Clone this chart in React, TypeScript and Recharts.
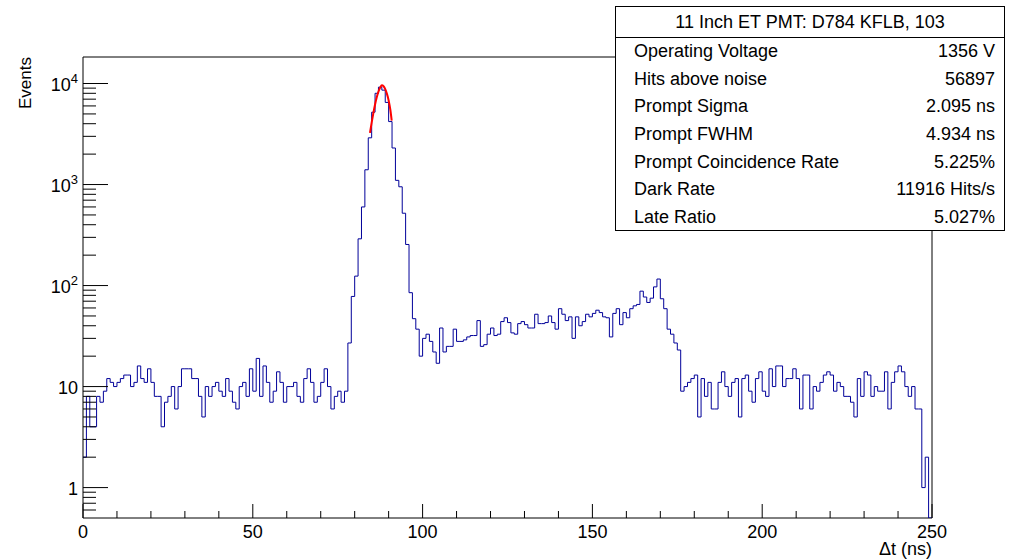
import React from 'react';
import { LineChart, Line, XAxis, YAxis, ReferenceArea } from 'recharts';

// events per 1 ns bin, bins 0..249
const counts = [
  2, 8, 4, 4, 8, 7, 9, 12, 11, 10,
  11, 12, 13, 13, 10, 11, 16, 12, 11, 15,
  11, 8, 8, 4, 7, 8, 10, 6, 10, 15,
  15, 15, 12, 12, 8, 5, 10, 8, 10, 11,
  9, 8, 12, 9, 7, 6, 10, 11, 8, 15,
  9, 19, 8, 16, 11, 7, 9, 14, 11, 7,
  10, 10, 11, 8, 7, 12, 15, 11, 7, 8,
  11, 15, 10, 6, 8, 9, 7, 9, 27, 78,
  124, 290, 600, 1400, 2900, 5200, 8000, 9200, 8600, 6500,
  4200, 2300, 1100, 950, 520, 255, 85, 47, 37, 20,
  30, 33, 28, 22, 17, 38, 22, 25, 25, 37,
  28, 28, 29, 31, 32, 32, 45, 25, 26, 33,
  38, 32, 33, 44, 48, 43, 34, 33, 42, 44,
  41, 38, 38, 52, 42, 42, 43, 50, 43, 37,
  59, 52, 45, 49, 30, 49, 40, 44, 52, 49,
  53, 57, 54, 49, 48, 31, 53, 59, 41, 54,
  48, 59, 63, 65, 88, 77, 68, 75, 97, 116,
  74, 59, 37, 33, 27, 23, 9, 10, 11, 12,
  13, 5, 12, 8, 11, 6, 6, 11, 14, 10,
  8, 11, 12, 5, 12, 13, 9, 7, 12, 14,
  9, 8, 15, 10, 16, 16, 10, 12, 12, 15,
  12, 6, 13, 13, 6, 10, 9, 11, 13, 14,
  13, 9, 11, 10, 8, 8, 7, 5, 12, 8,
  14, 13, 8, 10, 9, 9, 14, 6, 11, 14,
  16, 14, 10, 8, 10, 6, 6, 1, 2, 0,
];

// gaussian fit curve as drawn (red)
const fitX = [84.5, 85, 85.5, 86, 86.5, 87, 87.5, 88, 88.5, 89, 89.5, 90, 90.5, 90.9];
const fitY = [3250, 4100, 5100, 6200, 7300, 8300, 9100, 9600, 9400, 8800, 7900, 6800, 5500, 4300];

const xMajorTicks = [0, 50, 100, 150, 200, 250];
const xMinorTicks = [10, 20, 30, 40, 60, 70, 80, 90, 110, 120, 130, 140, 160, 170, 180, 190, 210, 220, 230, 240];
const yMajorTicks = [1, 10, 100, 1000, 10000];
const yMinorTicks = [
  0.6, 0.7, 0.8, 0.9,
  2, 3, 4, 5, 6, 7, 8, 9,
  20, 30, 40, 50, 60, 70, 80, 90,
  200, 300, 400, 500, 600, 700, 800, 900,
  2000, 3000, 4000, 5000, 6000, 7000, 8000, 9000,
];

const statsTitle = '11 Inch ET PMT: D784 KFLB, 103';
const statsLabels = [
  'Operating Voltage',
  'Hits above noise',
  'Prompt Sigma',
  'Prompt FWHM',
  'Prompt Coincidence Rate',
  'Dark Rate',
  'Late Ratio',
];
const statsValues = ['1356 V', '56897', '2.095 ns', '4.934 ns', '5.225%', '11916 Hits/s', '5.027%'];

const Y_MIN = 0.5;
const Y_MAX = 18300;
const FONT = '"Liberation Sans", Arial, Helvetica, sans-serif';

const histData = counts.map((c, i) => ({ x: i, y: Math.max(c, Y_MIN) }));
histData.push({ x: counts.length, y: Math.max(counts[counts.length - 1], Y_MIN) });

const fitData = fitX.map((x, i) => ({ x, y: fitY[i] }));

const XTick = (props: any) => {
  const { x, y, payload } = props;
  const major = xMajorTicks.includes(payload.value);
  return (
    <g>
      <line x1={x} x2={x} y1={y} y2={y - (major ? 14 : 7)} stroke="#000" />
      {major && (
        <text x={x} y={y + 20} textAnchor="middle" fontSize={18} fontFamily={FONT} fill="#000">
          {payload.value}
        </text>
      )}
    </g>
  );
};

const YTick = (props: any) => {
  const { x, y, payload } = props;
  const v = payload.value;
  const major = yMajorTicks.includes(v);
  const exp = Math.round(Math.log10(v));
  return (
    <g>
      <line x1={x} x2={x + (major ? 25 : 13)} y1={y} y2={y} stroke="#000" />
      {major && (
        <text x={x - 5} y={y + 7} textAnchor="end" fontSize={18} fontFamily={FONT} fill="#000">
          {exp === 0 ? '1' : '10'}
          {exp > 1 && (
            <tspan dy={-8} fontSize={13}>
              {exp}
            </tspan>
          )}
        </text>
      )}
    </g>
  );
};

export default function App() {
  return (
    <div style={{ position: 'absolute', left: 0, top: 0, width: 1010, height: 560, background: '#fff', fontFamily: FONT }}>
      <LineChart width={1010} height={560} margin={{ top: 57, right: 78, bottom: 12, left: 23 }}>
        <XAxis
          dataKey="x"
          type="number"
          domain={[0, 250]}
          allowDataOverflow
          ticks={[...xMajorTicks, ...xMinorTicks].sort((a, b) => a - b)}
          interval={0}
          tick={<XTick />}
          tickLine={false}
          axisLine={false}
          tickSize={0}
          tickMargin={0}
          height={30}
        />
        <YAxis
          type="number"
          scale="log"
          domain={[Y_MIN, Y_MAX]}
          allowDataOverflow
          ticks={[...yMajorTicks, ...yMinorTicks].sort((a, b) => a - b)}
          interval={0}
          tick={<YTick />}
          tickLine={false}
          axisLine={false}
          tickSize={0}
          tickMargin={0}
          width={60}
        />
        <ReferenceArea x1={0} x2={250} y1={Y_MIN} y2={Y_MAX} fill="none" stroke="#000" strokeWidth={1} />
        <Line
          data={histData}
          dataKey="y"
          type="stepAfter"
          stroke="#000099"
          strokeWidth={1}
          dot={false}
          isAnimationActive={false}
        />
        <Line
          data={fitData}
          dataKey="y"
          type="monotone"
          stroke="#ff0000"
          strokeWidth={2}
          dot={false}
          isAnimationActive={false}
        />
      </LineChart>

      <svg width={1010} height={560} style={{ position: 'absolute', left: 0, top: 0, pointerEvents: 'none' }}>
        <text x={31} y={57} transform="rotate(-90 31 57)" textAnchor="end" fontSize={17} fontFamily={FONT} fill="#000">
          Events
        </text>
        <text x={932} y={555} textAnchor="end" fontSize={18} fontFamily={FONT} fill="#000">
          Δt (ns)
        </text>
      </svg>

      <div
        style={{
          position: 'absolute',
          left: 615,
          top: 6,
          width: 390,
          height: 225,
          boxSizing: 'border-box',
          border: '1px solid #000',
          background: '#fff',
          fontSize: 18,
          color: '#000',
        }}
      >
        <div
          style={{
            height: 31,
            lineHeight: '31px',
            textAlign: 'center',
            borderBottom: '1px solid #000',
            boxSizing: 'border-box',
          }}
        >
          {statsTitle}
        </div>
        {statsLabels.map((label, i) => (
          <div
            key={label}
            style={{
              height: 27.6,
              display: 'flex',
              alignItems: 'center',
              justifyContent: 'space-between',
              padding: '0 9px 0 18px',
            }}
          >
            <span>{label}</span>
            <span>{statsValues[i]}</span>
          </div>
        ))}
      </div>
    </div>
  );
}
